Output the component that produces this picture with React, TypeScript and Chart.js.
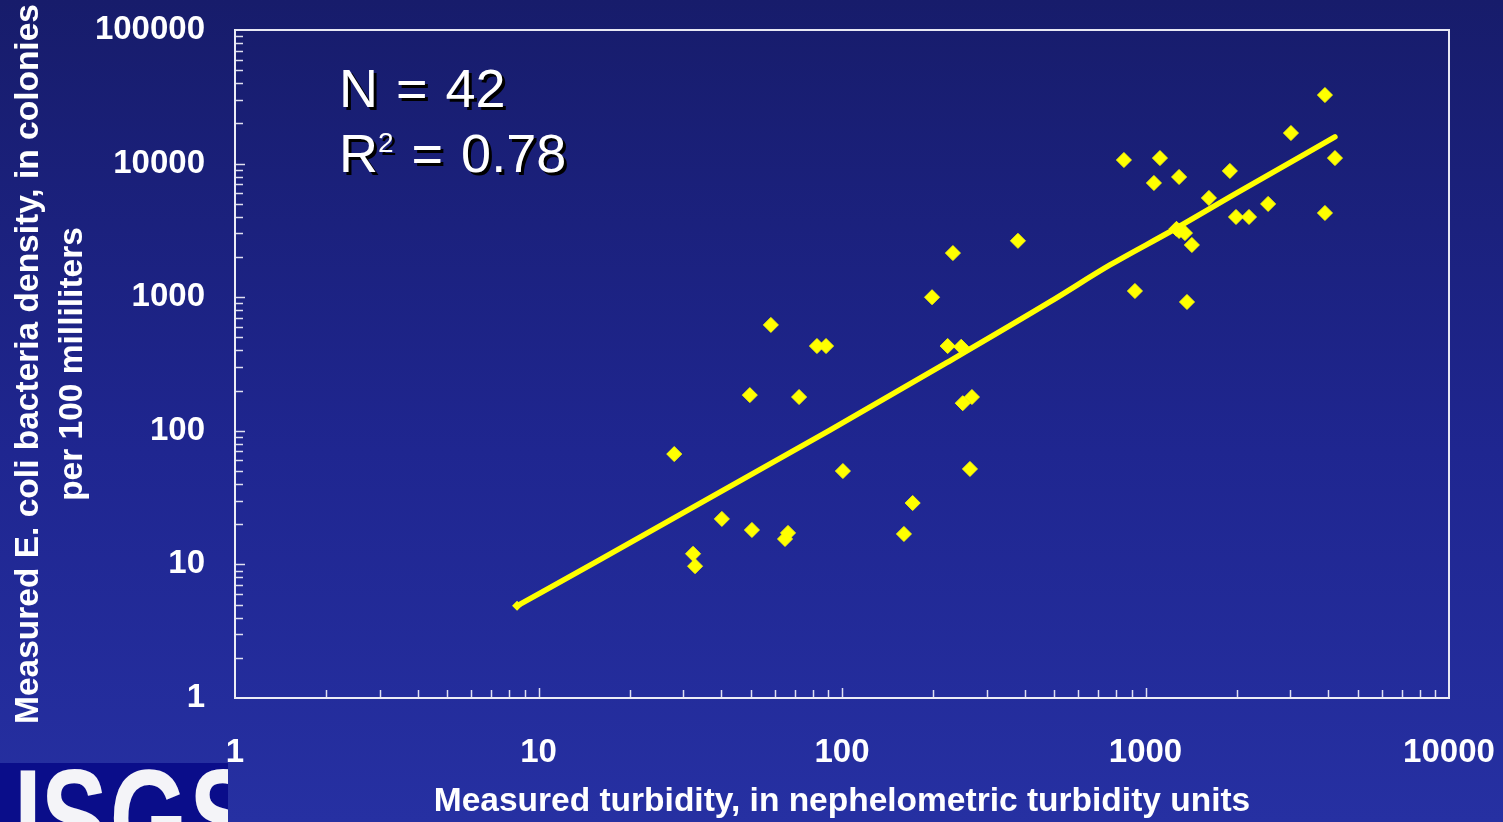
import { useEffect, useRef } from "react";
import Chart from "chart.js/auto";

// ---- Data ----
const turbidityNTU = [
  28, 32.3, 32.8, 40.2, 49.7, 50.5, 58.3, 64.9, 66.4, 72.2, 82.7, 88.6, 100.7,
  160, 171, 198, 223, 232, 247, 250, 264, 268, 380, 849, 923, 1066, 1116, 1290,
  1290, 1349, 1370, 1422, 1618, 1897, 1987, 2193, 2535, 3015, 3902, 3902, 4210,
  1265,
];
const ecoliDensity = [
  67, 12, 9.7, 21.9, 185, 18.1, 620, 15.5, 17.2, 179, 431, 431, 50, 16.9, 28.8,
  1000, 431, 2140, 425, 161, 51.8, 179, 2640, 10640, 1113, 7160, 11000, 7940,
  3130, 3020, 921, 2460, 5530, 8810, 3985, 3985, 4990, 16940, 32600, 4270,
  11000, 3250,
];
const trendTurbidity = [8.5, 15.9, 91.3, 215, 484, 764, 1233, 2001, 4209];
const trendDensity = [4.9, 10.8, 101, 311, 921, 1742, 3184, 6026, 15820];

const xTickValues = [1, 10, 100, 1000, 10000];
const yTickValues = [1, 10, 100, 1000, 10000, 100000];
const minorMantissas = [2, 3, 4, 5, 6, 7, 8, 9];

const xTitle = "Measured turbidity, in nephelometric turbidity units";
const yTitle = ["Measured E. coli bacteria density, in colonies", "per 100 milliliters"];
const statN = "N = 42";
const statR2Value = " = 0.78";

const FONT = "'Liberation Sans', Arial, Helvetica, sans-serif";

const frameTicksPlugin = {
  id: "frameTicks",
  beforeDatasetsDraw(chart: any) {
    const { ctx, chartArea, scales } = chart;
    const xs = scales.x;
    const ys = scales.y;
    ctx.save();
    ctx.strokeStyle = "#e8e8f4";
    ctx.lineWidth = 2;
    ctx.beginPath();
    ctx.moveTo(chartArea.left, chartArea.top);
    ctx.lineTo(chartArea.right, chartArea.top);
    ctx.lineTo(chartArea.right, chartArea.bottom);
    ctx.stroke();
    ctx.strokeStyle = "rgba(235,235,245,0.95)";
    ctx.lineWidth = 1.5;
    const drawX = (v: number, len: number) => {
      const px = Math.round(xs.getPixelForValue(v)) + 0.5;
      if (px <= chartArea.left + 1 || px >= chartArea.right - 1) return;
      ctx.beginPath();
      ctx.moveTo(px, chartArea.bottom);
      ctx.lineTo(px, chartArea.bottom - len);
      ctx.stroke();
    };
    const drawY = (v: number, len: number) => {
      const py = Math.round(ys.getPixelForValue(v)) + 0.5;
      if (py <= chartArea.top + 1 || py >= chartArea.bottom - 1) return;
      ctx.beginPath();
      ctx.moveTo(chartArea.left, py);
      ctx.lineTo(chartArea.left + len, py);
      ctx.stroke();
    };
    for (let i = 0; i < xTickValues.length; i++) {
      drawX(xTickValues[i], 10);
      if (i < xTickValues.length - 1) minorMantissas.forEach((m) => drawX(m * xTickValues[i], 8));
    }
    for (let i = 0; i < yTickValues.length; i++) {
      drawY(yTickValues[i], 10);
      if (i < yTickValues.length - 1) minorMantissas.forEach((m) => drawY(m * yTickValues[i], 8));
    }
    ctx.restore();
  },
};

const zeroPadding = (s: any) => {
  s.paddingLeft = 0;
  s.paddingRight = 0;
  s.paddingTop = 0;
  s.paddingBottom = 0;
};

export default function App() {
  const canvasRef = useRef<HTMLCanvasElement | null>(null);

  useEffect(() => {
    if (!canvasRef.current) return;
    const tickFont = { family: FONT, size: 33, weight: "bold" as const };
    const chart = new Chart(canvasRef.current, {
      type: "scatter",
      data: {
        datasets: [
          {
            label: "Regression line",
            data: trendTurbidity.map((x, i) => ({ x, y: trendDensity[i] })),
            showLine: true,
            borderColor: "#ffff00",
            backgroundColor: "#ffff00",
            borderWidth: 5.5,
            borderCapStyle: "round",
            borderJoinStyle: "round",
            cubicInterpolationMode: "monotone",
            pointStyle: "rectRot",
            pointRadius: (c: any) => (c.dataIndex === 0 ? 5 : 0),
            pointBorderWidth: 0,
          } as any,
          {
            label: "Samples",
            data: turbidityNTU.map((x, i) => ({ x, y: ecoliDensity[i] })),
            pointStyle: "rectRot",
            pointRadius: 7.5,
            pointBorderWidth: 1,
            backgroundColor: "#ffff00",
            borderColor: "#ffff00",
          } as any,
        ],
      },
      options: {
        responsive: false,
        animation: false,
        devicePixelRatio: 1,
        layout: { padding: { left: 0, top: 30, right: 54, bottom: 0 } },
        plugins: { legend: { display: false }, tooltip: { enabled: false } },
        scales: {
          x: {
            type: "logarithmic",
            position: "bottom",
            min: 1,
            max: 10000,
            afterFit: (s: any) => {
              s.height = 124;
              zeroPadding(s);
            },
            afterBuildTicks: (s: any) => {
              s.ticks = xTickValues.map((v) => ({ value: v }));
            },
            grid: { display: false, drawTicks: false },
            border: { display: true, color: "#ececf6", width: 2 },
            ticks: {
              color: "#ffffff",
              font: tickFont,
              padding: 35,
              autoSkip: false,
              maxRotation: 0,
              callback: (v: any) => String(v),
            },
            title: {
              display: true,
              text: xTitle,
              color: "#ffffff",
              font: { family: FONT, size: 33.5, weight: "bold", lineHeight: 1.2 },
              padding: { top: 0, bottom: 0 },
            },
          } as any,
          y: {
            type: "logarithmic",
            position: "left",
            min: 1,
            max: 100000,
            afterFit: (s: any) => {
              s.width = 235;
              zeroPadding(s);
            },
            afterBuildTicks: (s: any) => {
              s.ticks = yTickValues.map((v) => ({ value: v }));
            },
            grid: { display: false, drawTicks: false },
            border: { display: true, color: "#ececf6", width: 2 },
            ticks: {
              color: "#ffffff",
              font: tickFont,
              padding: 30,
              autoSkip: false,
              callback: (v: any) => String(v),
            },
            title: {
              display: true,
              text: yTitle,
              color: "#ffffff",
              font: { family: FONT, size: 33.5, weight: "bold", lineHeight: 1.3 },
              padding: { top: 7, bottom: 0 },
            },
          } as any,
        },
      },
      plugins: [frameTicksPlugin],
    });
    return () => chart.destroy();
  }, []);

  const statStyle: React.CSSProperties = {
    position: "absolute",
    left: 339,
    fontFamily: FONT,
    fontSize: 54,
    lineHeight: "54px",
    color: "#ffffff",
    textShadow: "3px 3px 0 #000000",
    whiteSpace: "pre",
    wordSpacing: 3,
  };

  const logoLetter: React.CSSProperties = {
    position: "absolute",
    top: -10,
    fontFamily: FONT,
    fontWeight: "bold",
    fontSize: 100,
    lineHeight: "100px",
    color: "#f4f4f8",
    letterSpacing: 2,
    whiteSpace: "pre",
  };

  return (
    <div
      style={{
        position: "fixed",
        left: 0,
        top: 0,
        width: 1503,
        height: 822,
        overflow: "hidden",
        background: "linear-gradient(180deg, #171c6b 0%, #1f2690 55%, #2630a2 100%)",
      }}
    >
      <canvas ref={canvasRef} width={1503} height={822} style={{ display: "block", width: 1503, height: 822 }} />
      <div style={{ ...statStyle, top: 61 }}>{statN}</div>
      <div style={{ ...statStyle, top: 126 }}>
        R<span style={{ fontSize: 28, position: "relative", top: -20 }}>2</span>
        {statR2Value}
      </div>
      <div
        style={{
          position: "absolute",
          left: 0,
          top: 763,
          width: 228,
          height: 59,
          overflow: "hidden",
          background: "#0a0d8a",
        }}
      >
        <div
          style={{
            position: "absolute",
            left: 0,
            top: 0,
            width: 300,
            height: 120,
            transform: "scaleY(1.4)",
            transformOrigin: "0px 3px",
          }}
        >
          <span style={{ ...logoLetter, left: -31 }}>U</span>
          <span style={{ ...logoLetter, left: 41 }}>SGS</span>
        </div>
      </div>
    </div>
  );
}
